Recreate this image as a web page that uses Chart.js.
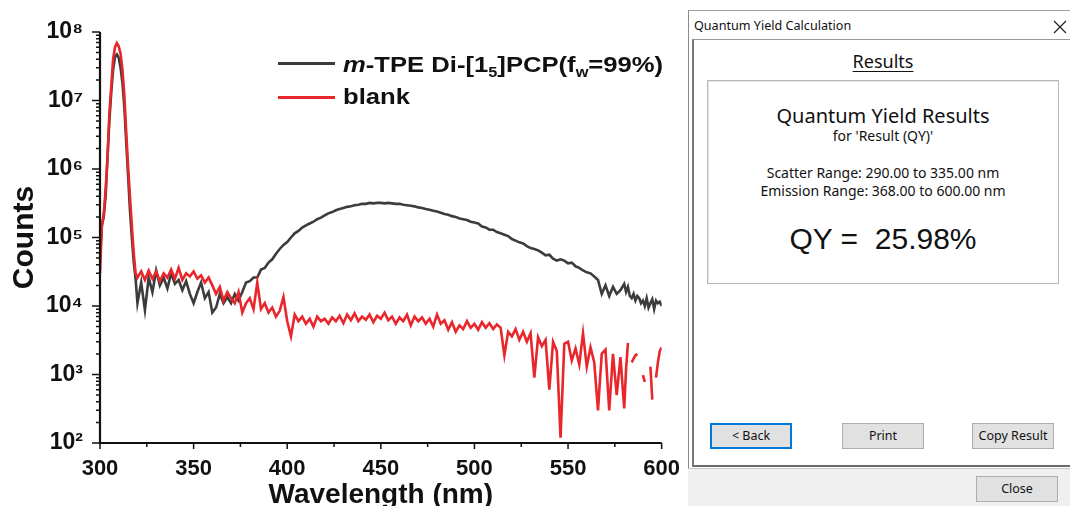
<!DOCTYPE html>
<html><head><meta charset="utf-8">
<script src="https://cdn.jsdelivr.net/npm/chart.js@4.4.1/dist/chart.umd.min.js"></script>
<style>
html,body{margin:0;padding:0;background:#fff;}
body{width:1070px;height:506px;position:relative;overflow:hidden;font-family:"Liberation Sans",Arial,sans-serif;}
#chartWrap{position:absolute;left:0;top:0;width:685px;height:506px;}
.leg{position:absolute;font-weight:bold;font-size:22px;line-height:22px;color:#111;white-space:nowrap;transform-origin:0 0;transform:scaleX(1.165);}
.leg sub{font-size:14px;vertical-align:-5px;line-height:0;}
.legline{position:absolute;height:3px;width:57px;left:278px;}
.ui{position:absolute;font-family:"Noto Sans","Open Sans",sans-serif;color:#111;white-space:nowrap;}
.ctr{left:707px;width:352px;text-align:center;}
.btn{position:absolute;box-sizing:border-box;width:82px;height:26px;background:#e1e1e1;border:1px solid #adadad;font-family:"Noto Sans",sans-serif;font-size:12.5px;line-height:24px;text-align:center;color:#111;}
</style></head>
<body>
<div id="chartWrap"><canvas id="c" width="685" height="506"></canvas></div>

<div class="legline" style="top:62px;background:#3c3c3c"></div>
<div class="leg" style="left:343px;top:54px"><i>m</i>-TPE Di-[1<sub>5</sub>]PCP(f<sub>w</sub>=99%)</div>
<div class="legline" style="top:96px;background:#e8262b"></div>
<div class="leg" style="left:343px;top:86px">blank</div>

<!-- dialog -->
<div style="position:absolute;left:688px;top:10px;width:400px;height:500px;border-left:1px solid #8a8a8a;border-top:1px solid #a0a0a0;background:#fff"></div>
<div class="ui" style="left:694px;top:20px;font-size:12.6px;line-height:12.6px">Quantum Yield Calculation</div>
<svg style="position:absolute;left:1053px;top:20px" width="14" height="14"><path d="M1 1L13 13M13 1L1 13" stroke="#222" stroke-width="1.2"/></svg>
<div style="position:absolute;left:692px;top:39px;width:380px;height:425px;border-top:1px solid #9a9a9a;border-left:2px solid #7a7a7a;border-bottom:2px solid #6a6a6a;background:#fff"></div>
<div style="position:absolute;left:688px;top:468px;width:384px;height:40px;background:#f0f0f0;border-top:1px solid #c8c8c8"></div>
<div class="ui ctr" style="top:52px;font-size:18px;line-height:18px;text-decoration:underline;text-underline-offset:3px">Results</div>
<div style="position:absolute;left:707px;top:80px;width:350px;height:202px;border:1px solid #b8b8b8;box-shadow:inset 1px 1px 0 #e4e4e4"></div>
<div class="ui ctr" style="top:106px;font-size:20px;line-height:20px">Quantum Yield Results</div>
<div class="ui ctr" style="top:129px;font-size:14px;line-height:14px">for 'Result (QY)'</div>
<div class="ui ctr" style="top:166px;font-size:14px;line-height:14px">Scatter Range: 290.00 to 335.00 nm</div>
<div class="ui ctr" style="top:184px;font-size:14px;line-height:14px">Emission Range: 368.00 to 600.00 nm</div>
<div class="ui ctr" style="top:224px;font-size:30px;line-height:30px;font-family:'Liberation Sans',Arial,sans-serif;white-space:pre">QY =  25.98%</div>
<div class="btn" style="left:710px;top:423px;border:2px solid #0078d7;line-height:22px">&lt; Back</div>
<div class="btn" style="left:842px;top:423px">Print</div>
<div class="btn" style="left:972px;top:423px">Copy Result</div>
<div class="btn" style="left:976px;top:476px">Close</div>

<script>
const wavelengths = [
300,301,302,303,304,305,306,307,308,309,310,311,312,313,314,315,316,317,318,319,320,
322,324,326,328,330,332,334,336,338,340,342,344,346,348,350,352,354,356,358,360,
362,364,366,368,370,372,374,376,378,380,382,384,386,388,390,392,394,396,398,400,
402,404,406,408,410,412,414,416,418,420,422,424,426,428,430,432,434,436,438,440,
442,444,446,448,450,452,454,456,458,460,462,464,466,468,470,472,474,476,478,480,
482,484,486,488,490,492,494,496,498,500,502,504,506,508,510,512,514,516,518,520,
522,524,526,528,530,532,534,536,538,540,542,544,546,548,550,552,554,556,558,560,
562,564,566,568,570,572,574,576,578,
580,581,582,583,584,585,586,587,588,589,590,591,592,593,594,595,596,597,598,599,600
];
const sampleCounts = [
5.0e4,1.5e5,2.0e5,4.0e5,1.5e6,5.0e6,1.3e7,2.8e7,4.3e7,4.7e7,4.2e7,3.0e7,1.8e7,8.0e6,2.5e6,8.0e5,2.5e5,1.0e5,4.5e4,2.5e4,1.1e4,
2.2e4,8.7e3,2.6e4,1.6e4,3.3e4,2.0e4,2.6e4,1.8e4,3.0e4,2.1e4,2.4e4,1.7e4,2.3e4,1.5e4,1.1e4,1.6e4,2.2e4,1.3e4,1.6e4,8.0e3,
9.5e3,1.5e4,1.1e4,1.35e4,1.1e4,1.5e4,1.2e4,1.6e4,2.2e4,2.3e4,2.6e4,2.6e4,3.4e4,3.6e4,4.3e4,4.8e4,5.8e4,6.8e4,7.8e4,8.6e4,
1.0e5,1.15e5,1.25e5,1.4e5,1.5e5,1.6e5,1.7e5,1.85e5,1.95e5,2.1e5,2.25e5,2.35e5,2.5e5,2.6e5,2.7e5,2.8e5,2.85e5,2.95e5,3.0e5,3.1e5,
3.1e5,3.2e5,3.15e5,3.2e5,3.2e5,3.15e5,3.2e5,3.15e5,3.1e5,3.1e5,3.0e5,2.95e5,2.9e5,2.85e5,2.75e5,2.7e5,2.6e5,2.55e5,2.45e5,2.4e5,
2.3e5,2.2e5,2.15e5,2.05e5,2.0e5,1.9e5,1.85e5,1.8e5,1.7e5,1.65e5,1.6e5,1.45e5,1.4e5,1.3e5,1.3e5,1.2e5,1.15e5,1.1e5,1.05e5,9.5e4,
9.0e4,8.5e4,8.2e4,7.5e4,7.0e4,6.8e4,6.5e4,6.0e4,5.5e4,5.6e4,4.9e4,4.6e4,4.8e4,4.6e4,4.2e4,4.3e4,3.8e4,3.6e4,3.3e4,3.1e4,
3.0e4,2.7e4,2.4e4,1.5e4,2.0e4,1.4e4,1.9e4,1.5e4,1.7e4,
2.1e4,1.6e4,1.9e4,1.4e4,1.3e4,1.5e4,1.2e4,1.4e4,1.3e4,1.1e4,1.2e4,1.0e4,1.3e4,9.5e3,1.1e4,1.25e4,9.0e3,1.2e4,1.1e4,1.15e4,1.0e4
];
const blankCounts = [
3.0e4,1.5e5,2.2e5,5.0e5,1.4e6,6.5e6,1.6e7,4.0e7,6.0e7,6.9e7,6.2e7,4.8e7,2.8e7,1.2e7,3.5e6,1.1e6,4.0e5,1.5e5,6.0e4,3.0e4,2.6e4,
3.2e4,2.4e4,3.3e4,2.5e4,3.2e4,2.3e4,3.0e4,2.6e4,3.4e4,2.5e4,3.6e4,2.4e4,3.0e4,2.7e4,3.2e4,2.5e4,2.8e4,2.2e4,2.6e4,2.0e4,
1.5e4,1.9e4,1.2e4,1.6e4,1.3e4,1.1e4,1.6e4,8.0e3,1.1e4,1.3e4,9.0e3,2.2e4,9.0e3,1.1e4,8.0e3,9.5e3,7.0e3,8.5e3,1.35e4,6.0e3,
3.6e3,7.5e3,6.0e3,7.0e3,5.5e3,6.5e3,5.0e3,7.0e3,6.0e3,6.5e3,5.5e3,6.8e3,6.0e3,7.2e3,5.6e3,7.5e3,6.2e3,7.8e3,6.0e3,7.0e3,
6.3e3,7.5e3,5.8e3,7.2e3,6.5e3,8.0e3,6.2e3,7.0e3,5.5e3,6.8e3,6.0e3,7.5e3,5.2e3,7.0e3,6.0e3,6.8e3,5.5e3,6.5e3,5.0e3,7.5e3,
5.5e3,6.2e3,4.5e3,5.8e3,4.2e3,5.2e3,4.6e3,6.0e3,4.8e3,5.5e3,4.5e3,5.8e3,4.8e3,5.6e3,4.6e3,5.4e3,4.8e3,1.9e3,4.2e3,3.6e3,
4.6e3,3.2e3,4.2e3,3.0e3,4.0e3,9.0e2,3.5e3,2.6e3,3.2e3,6.0e2,3.0e3,2.2e3,1.2e2,2.8e3,3.0e3,1.6e3,2.4e3,1.4e3,4.0e3,1.3e3,
2.5e3,1.5e3,3.0e2,2.0e3,2.3e3,3.0e2,2.0e3,5.0e2,1.8e3,
3.2e2,1.2e3,2.9e3,null,1.5e3,1.7e3,1.9e3,2.0e3,null,null,9.8e2,7.8e2,null,null,1.3e3,4.3e2,null,9.0e2,1.5e3,2.2e3,2.5e3
];
const xTickValues = [300,350,400,450,500,550,600];
const xMinorTickValues = [325,375,425,475,525,575];
const yTickExponents = [2,3,4,5,6,7,8];
const seriesNames = ['m-TPE Di-[15]PCP(fw=99%)','blank'];

if (sampleCounts.length !== wavelengths.length || blankCounts.length !== wavelengths.length) {
  throw new Error('length mismatch ' + wavelengths.length + ' ' + sampleCounts.length + ' ' + blankCounts.length);
}

const SUP = {'2':'\u00b2','3':'\u00b3','4':'\u2074','5':'\u2075','6':'\u2076','7':'\u2077','8':'\u2078'};
const FAM = "'Liberation Sans', Arial, sans-serif";

const tickPlugin = {
  id: 'tickmarks',
  afterDraw(chart) {
    const {ctx, chartArea: a, scales: {x, y}} = chart;
    ctx.save();
    ctx.strokeStyle = '#111';
    ctx.lineWidth = 1.5;
    ctx.beginPath();
    yTickExponents.forEach(e => {
      const p = y.getPixelForValue(Math.pow(10, e));
      ctx.moveTo(a.left - 8, p); ctx.lineTo(a.left, p);
      if (e < 8) {
        for (let k = 2; k < 10; k++) {
          const q = y.getPixelForValue(k * Math.pow(10, e));
          ctx.moveTo(a.left - 4, q); ctx.lineTo(a.left, q);
        }
      }
    });
    xTickValues.forEach(v => { const p = x.getPixelForValue(v); ctx.moveTo(p, a.bottom); ctx.lineTo(p, a.bottom + 6); });
    xMinorTickValues.forEach(v => { const p = x.getPixelForValue(v); ctx.moveTo(p, a.bottom); ctx.lineTo(p, a.bottom + 4); });
    ctx.stroke();
    ctx.lineWidth = 2.2;
    ctx.beginPath();
    ctx.moveTo(a.left, a.top); ctx.lineTo(a.left, a.bottom); ctx.lineTo(a.right, a.bottom);
    ctx.stroke();
    ctx.restore();
  }
};

new Chart(document.getElementById('c'), {
  type: 'line',
  data: {
    datasets: [
      { label: seriesNames[0], data: wavelengths.map((w, i) => ({x: w, y: sampleCounts[i]})),
        borderColor: '#3c3c3c', borderWidth: 2.6, pointRadius: 0, tension: 0, order: 2, spanGaps: false },
      { label: seriesNames[1], data: wavelengths.map((w, i) => ({x: w, y: blankCounts[i]})),
        borderColor: '#e8262b', borderWidth: 2.6, pointRadius: 0, tension: 0, order: 1, spanGaps: false }
    ]
  },
  options: {
    responsive: false,
    devicePixelRatio: 1,
    animation: false,
    layout: { padding: { top: 32, right: 16, left: 0, bottom: 0 } },
    plugins: { legend: { display: false }, tooltip: { enabled: false } },
    scales: {
      x: {
        type: 'linear', min: 300, max: 600,
        afterFit(s) { s.height = 63; },
        afterBuildTicks(s) { s.ticks = xTickValues.map(v => ({value: v})); },
        grid: { display: false },
        border: { display: false },
        ticks: { font: { family: FAM, size: 22, weight: 'bold' }, color: '#111', padding: 5, maxRotation: 0, autoSkip: false },
        title: { display: true, text: 'Wavelength (nm)', color: '#111',
          font: { family: FAM, size: 28, weight: 'bold' }, padding: { top: 0, bottom: -6 } }
      },
      y: {
        type: 'logarithmic', min: 100, max: 1e8,
        afterFit(s) { s.width = 100; },
        afterBuildTicks(s) { s.ticks = yTickExponents.map(e => ({value: Math.pow(10, e), major: true})); },
        grid: { display: false },
        border: { display: false },
        ticks: { font: { family: FAM, size: 23, weight: 'bold' }, color: '#111', padding: 9, autoSkip: false,
          callback: (v) => '10' + SUP[String(Math.round(Math.log10(v)))] },
        title: { display: true, text: 'Counts', color: '#111',
          font: { family: FAM, size: 30, weight: 'bold' }, padding: { top: 7, bottom: 0 } }
      }
    }
  },
  plugins: [tickPlugin]
});
</script>
</body></html>
